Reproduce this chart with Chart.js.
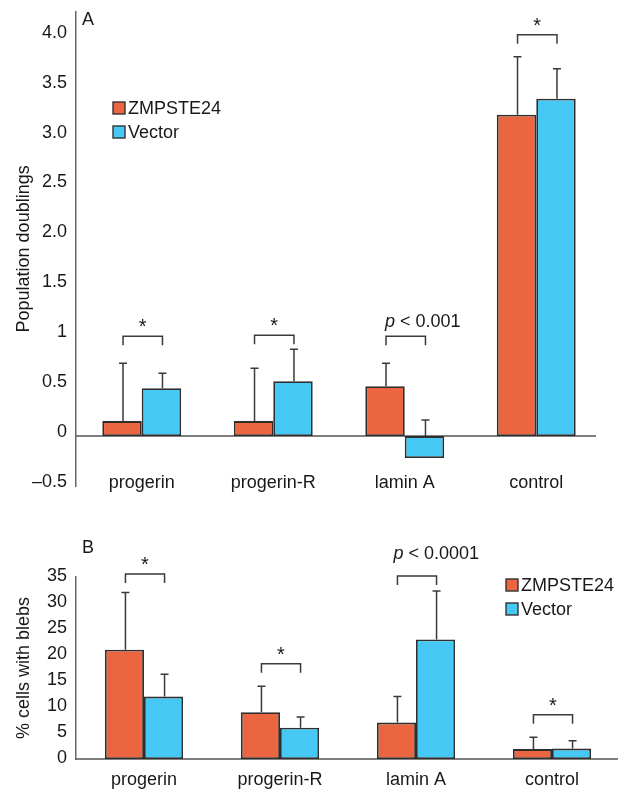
<!DOCTYPE html>
<html>
<head>
<meta charset="utf-8">
<script src="https://cdn.jsdelivr.net/npm/chart.js@4.4.1/dist/chart.umd.min.js"></script>
<style>
    html, body { margin: 0; padding: 0; background: #fff; }
    #wrapA { position: absolute; left: 0; top: 0; width: 627px; height: 500px; }
    #wrapB { position: absolute; left: 0; top: 500px; width: 627px; height: 291px; }
</style>
</head>
<body>
<div id="wrapA"><canvas id="chartA"></canvas></div>
<div id="wrapB"><canvas id="chartB"></canvas></div>
<script>
// categories and series
const categories = ["progerin", "progerin-R", "lamin A", "control"];
const seriesNames = ["ZMPSTE24", "Vector"];

// panel A - population doublings
const doublingsZmp = [0.15, 0.15, 0.50, 3.22];
const doublingsZmpErr = [0.58, 0.53, 0.23, 0.58];
const doublingsVec = [0.48, 0.55, -0.22, 3.38];
const doublingsVecErr = [0.15, 0.32, 0.38, 0.30];
const doublingsTicks = [-0.5, 0, 0.5, 1, 1.5, 2, 2.5, 3, 3.5, 4];
const doublingsTickLabels = ["\u20130.5", "0", "0.5", "1", "1.5", "2.0", "2.5", "3.0", "3.5", "4.0"];
const doublingsSig = ["*", "*", "p < 0.001", "*"];
const doublingsBracket = [1.0, 1.01, 1.0, 4.02];

// panel B - % cells with blebs
const blebsZmp = [21, 9, 7, 1.9];
const blebsZmpErr = [11, 5, 5, 2.3];
const blebsVec = [12, 6, 23, 2.0];
const blebsVecErr = [4.3, 2.1, 9.3, 1.5];
const blebsTicks = [0, 5, 10, 15, 20, 25, 30, 35];
const blebsTickLabels = ["0", "5", "10", "15", "20", "25", "30", "35"];
const blebsSig = ["*", "*", "p < 0.0001", "*"];
const blebsBracket = [35.6, 18.3, 35.2, 8.5];

const ORANGE = "#ec6541";
const BLUE = "#45c8f4";
const INK = "#1a1718";
const FONT = "'Liberation Sans', Arial, Helvetica, sans-serif";

const drawLabel = (ctx, text, x, y, align) => {
    // "p" in italics, rest upright
    ctx.textBaseline = "alphabetic";
    if (text.startsWith("p ")) {
        ctx.font = `italic 18px ${FONT}`;
        const pw = ctx.measureText("p").width;
        const rest = text.slice(1);
        ctx.font = `18px ${FONT}`;
        const rw = ctx.measureText(rest).width;
        let x0 = align === "left" ? x : x - (pw + rw) / 2;
        ctx.textAlign = "left";
        ctx.font = `italic 18px ${FONT}`;
        ctx.fillText("p", x0, y);
        ctx.font = `18px ${FONT}`;
        ctx.fillText(rest, x0 + pw, y);
    } else {
        ctx.font = `20px ${FONT}`;
        ctx.textAlign = "center";
        ctx.fillText(text, x, y);
    }
};

const decorPlugin = {
    id: "decor",
    beforeDatasetsDraw(chart, args, o) {
        const { ctx, chartArea, scales: { y } } = chart;
        const y0 = y.getPixelForValue(0);
        ctx.save();
        ctx.strokeStyle = "#555";
        ctx.lineWidth = 1.5;
        ctx.beginPath();
        ctx.moveTo(chartArea.left, y0);
        ctx.lineTo(chartArea.right - o.zeroTrim, y0);
        ctx.stroke();
        ctx.restore();
    },
    afterDatasetsDraw(chart, args, o) {
        const { ctx, scales: { y } } = chart;
        ctx.save();
        ctx.strokeStyle = "#3a3a3a";
        ctx.fillStyle = INK;
        ctx.lineWidth = 1.5;

        // error bars
        chart.data.datasets.forEach((ds, di) => {
            const meta = chart.getDatasetMeta(di);
            meta.data.forEach((bar, i) => {
                const v = ds.data[i];
                const e = o.errors[di][i];
                const x = bar.x + 1;
                const from = y.getPixelForValue(Math.max(v, 0));
                const to = y.getPixelForValue(v + e);
                ctx.beginPath();
                ctx.moveTo(x, from);
                ctx.lineTo(x, to);
                ctx.moveTo(x - 4, to);
                ctx.lineTo(x + 4, to);
                ctx.stroke();
            });
        });

        // significance brackets
        const m0 = chart.getDatasetMeta(0).data;
        const m1 = chart.getDatasetMeta(1).data;
        o.brackets.forEach((b, i) => {
            const xa = m0[i].x + 1;
            const xb = m1[i].x + 1;
            const yb = y.getPixelForValue(b);
            ctx.beginPath();
            ctx.moveTo(xa, yb + 9);
            ctx.lineTo(xa, yb);
            ctx.lineTo(xb, yb);
            ctx.lineTo(xb, yb + 9);
            ctx.stroke();
            const txt = o.sig[i];
            if (txt === "*") drawLabel(ctx, txt, (xa + xb) / 2, yb - 3, "center");
            else drawLabel(ctx, txt, xa + o.pShift, yb - o.pLift, "left");
        });

        // category labels
        ctx.font = `18px ${FONT}`;
        ctx.textAlign = "center";
        ctx.textBaseline = "middle";
        chart.scales.x.ticks.forEach((t, i) => {
            ctx.fillText(categories[i], chart.scales.x.getPixelForTick(i), o.labelY);
        });

        // panel letter
        ctx.textAlign = "left";
        ctx.fillText(o.letter, o.letterX, o.letterY);

        // legend
        chart.data.datasets.forEach((ds, di) => {
            const ly = o.legendY + di * 24;
            ctx.fillStyle = ds.backgroundColor;
            ctx.fillRect(o.legendX, ly - 6, 12, 12);
            ctx.strokeStyle = "#333";
            ctx.lineWidth = 1.4;
            ctx.strokeRect(o.legendX, ly - 6, 12, 12);
            ctx.fillStyle = INK;
            ctx.fillText(ds.label, o.legendX + 15, ly + 1);
        });
        ctx.restore();
    }
};

const makeChart = (id, zmp, vec, cfg) => new Chart(document.getElementById(id), {
    type: "bar",
    data: {
        labels: categories,
        datasets: [
            { label: seriesNames[0], data: zmp, backgroundColor: ORANGE, borderColor: "#2e2e2e", borderWidth: 1.8, borderSkipped: false },
            { label: seriesNames[1], data: vec, backgroundColor: BLUE, borderColor: "#2e2e2e", borderWidth: 1.8, borderSkipped: false }
        ]
    },
    options: {
        responsive: true,
        maintainAspectRatio: false,
        animation: false,
        layout: { padding: cfg.padding },
        datasets: { bar: { categoryPercentage: cfg.catPct, barPercentage: 1.0 } },
        plugins: {
            legend: { display: false },
            tooltip: { enabled: false },
            decor: cfg.decor
        },
        scales: {
            x: { display: false },
            y: {
                min: cfg.min,
                max: cfg.max,
                afterBuildTicks: s => { s.ticks = cfg.ticks.map(v => ({ value: v })); },
                afterFit: s => { s.width = cfg.axisWidth; },
                border: { display: true, color: "#666", width: 1.5 },
                grid: { display: false },
                ticks: {
                    padding: 1,
                    labelOffset: cfg.labelOffset,
                    color: INK,
                    font: { family: FONT, size: 18 },
                    callback: (v, i) => cfg.tickLabels[i]
                },
                title: {
                    display: true,
                    text: cfg.title,
                    color: INK,
                    font: { family: FONT, size: 18 },
                    padding: { top: 13, bottom: 0 }
                }
            }
        }
    },
    plugins: [decorPlugin]
});

makeChart("chartA", doublingsZmp, doublingsVec, {
    padding: { top: 11, bottom: 14, left: 0, right: 25 },
    catPct: 0.6,
    min: -0.5, max: 4.25,
    ticks: doublingsTicks,
    tickLabels: doublingsTickLabels,
    labelOffset: -4,
    axisWidth: 76,
    title: "Population doublings",
    decor: {
        errors: [doublingsZmpErr, doublingsVecErr],
        brackets: doublingsBracket,
        sig: doublingsSig,
        pShift: -1, pLift: 9,
        labelY: 483,
        letter: "A", letterX: 82, letterY: 20,
        legendX: 113, legendY: 108,
        zeroTrim: 6
    }
});

makeChart("chartB", blebsZmp, blebsVec, {
    padding: { top: 77, bottom: 32, left: 0, right: 7 },
    catPct: 0.575,
    min: 0, max: 35,
    ticks: blebsTicks,
    tickLabels: blebsTickLabels,
    labelOffset: -1,
    axisWidth: 76,
    title: "% cells with blebs",
    decor: {
        errors: [blebsZmpErr, blebsVecErr],
        brackets: blebsBracket,
        sig: blebsSig,
        pShift: -4, pLift: 17,
        labelY: 280,
        letter: "B", letterX: 82, letterY: 48,
        legendX: 506, legendY: 85,
        zeroTrim: 2
    }
});
</script>
</body>
</html>
